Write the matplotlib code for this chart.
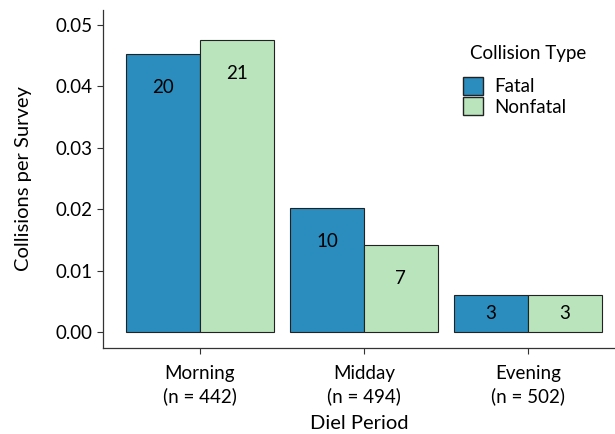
import numpy as np
import matplotlib
matplotlib.use("Agg")
import matplotlib.pyplot as plt
from matplotlib.patches import Patch

periods = ["Morning", "Midday", "Evening"]
surveys = [442, 494, 502]
fatal_counts = [20, 10, 3]
nonfatal_counts = [21, 7, 3]

FATAL = "#2B8CBE"
NONFATAL = "#BAE4BC"

plt.rcParams["font.family"] = ["Lato", "DejaVu Sans"]

n = np.array(surveys, dtype=float)
fatal = np.array(fatal_counts) / n
nonfatal = np.array(nonfatal_counts) / n

fig = plt.figure(figsize=(6.15, 4.34), dpi=100)
ax = fig.add_axes([0.1675, 0.198, 0.8325, 0.779])

x = np.arange(1, len(periods) + 1)
w = 0.45
ax.bar(x - w / 2, fatal, w, color=FATAL, edgecolor="#222222", linewidth=0.8)
ax.bar(x + w / 2, nonfatal, w, color=NONFATAL, edgecolor="#222222", linewidth=0.8)

# count labels near top of each bar
for xs, vals, cnts in [(x - w / 2, fatal, fatal_counts), (x + w / 2, nonfatal, nonfatal_counts)]:
    for xi, v, c in zip(xs, vals, cnts):
        ypos = max(v - 0.0055, v / 2)
        ax.text(xi, ypos, str(c), ha="center", va="center", fontsize=13.5, color="black")

ax.set_xlim(0.41, 3.53)
ax.set_ylim(-0.0026, 0.0524)
ax.set_yticks([0, 0.01, 0.02, 0.03, 0.04, 0.05])
ax.set_yticklabels(["0.00", "0.01", "0.02", "0.03", "0.04", "0.05"])
ax.set_xticks(x)
ax.set_xticklabels([f"{p}\n(n = {s})" for p, s in zip(periods, surveys)], linespacing=1.35)
ax.tick_params(labelsize=13.5, color="#333333", length=4, width=0.8)
ax.tick_params(axis="x", pad=8)

for s in ["top", "right"]:
    ax.spines[s].set_visible(False)
for s in ["left", "bottom"]:
    ax.spines[s].set_color("#333333")
    ax.spines[s].set_linewidth(0.9)

ax.set_xlabel("Diel Period", fontsize=14.5, labelpad=7)
ax.set_ylabel("Collisions per Survey", fontsize=14.5, labelpad=17)

handles = [Patch(facecolor=FATAL, edgecolor="#222222", label="Fatal"),
           Patch(facecolor=NONFATAL, edgecolor="#222222", label="Nonfatal")]
ax.legend(handles=handles, loc="upper left", bbox_to_anchor=(0.703, 0.802),
          frameon=False, fontsize=13.5, handlelength=1.07, handleheight=1.07,
          handletextpad=0.6, labelspacing=0.12, borderaxespad=0, borderpad=0)
ax.text(0.717, 0.870, "Collision Type", transform=ax.transAxes,
        ha="left", va="center", fontsize=13.5)

fig.savefig("out.png", dpi=100)
